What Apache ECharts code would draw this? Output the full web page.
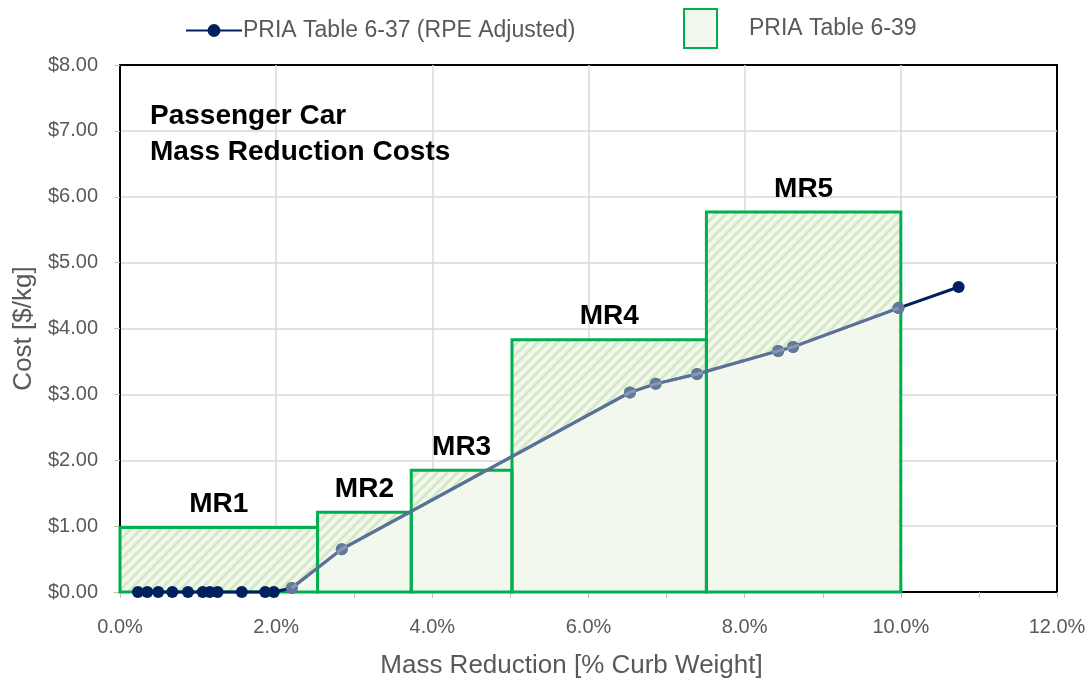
<!DOCTYPE html>
<html>
<head>
<meta charset="utf-8">
<script src="https://cdn.jsdelivr.net/npm/echarts@6/dist/echarts.min.js"></script>
<style>
  html, body { margin: 0; padding: 0; background: #fff; }
  #chart { width: 1089px; height: 679px; }
</style>
</head>
<body>
<div id="chart"></div>
<script>
// PRIA Table 6-37 (RPE Adjusted): mass reduction [%] vs cost [$/kg]
const adjMass = [0.23, 0.35, 0.49, 0.67, 0.87, 1.06, 1.15, 1.25, 1.56, 1.86, 1.97, 2.20, 2.84, 6.53, 6.86, 7.39, 8.43, 8.62, 9.97, 10.74];
const adjCost = [0, 0, 0, 0, 0, 0, 0, 0, 0, 0, 0, 0.06, 0.65, 3.03, 3.16, 3.31, 3.66, 3.72, 4.31, 4.63];
// overlay curve (2.2% .. 10%) drawn lighter on top
const overlayFrom = 11;
const overlayTo = 18;

// PRIA Table 6-39 steps
const mrNames = ['MR1', 'MR2', 'MR3', 'MR4', 'MR5'];
const mrStart = [0, 2.53, 3.73, 5.02, 7.51];
const mrEnd = [2.53, 3.73, 5.02, 7.51, 10.0];
const mrCost = [0.98, 1.21, 1.85, 3.83, 5.77];

const xTicks = [0, 2, 4, 6, 8, 10, 12];
const yTicks = [0, 1, 2, 3, 4, 5, 6, 7, 8];

const green = '#00b050';
const navy = '#002060';
const pale = '#f3f8ee';
const font = 'Liberation Sans';

// diagonal hatch pattern
const hatch = document.createElement('canvas');
hatch.width = 10;
hatch.height = 10;
(function () {
    const c = hatch.getContext('2d');
    c.fillStyle = pale;
    c.fillRect(0, 0, 10, 10);
    c.strokeStyle = '#d5e8c4';
    c.lineWidth = 3;
    c.beginPath();
    c.moveTo(-2, 12); c.lineTo(12, -2);
    c.moveTo(-7, 7); c.lineTo(7, -7);
    c.moveTo(3, 17); c.lineTo(17, 3);
    c.stroke();
})();

const lineData = adjMass.map((m, i) => [m, adjCost[i]]);
const overlayData = lineData.slice(overlayFrom, overlayTo + 1);
const boxData = mrNames.map((n, i) => [mrStart[i], mrEnd[i], mrCost[i], n]);

const chart = echarts.init(document.getElementById('chart'));

function boxRender(fillOnly) {
    return function (params, api) {
        const p0 = api.coord([api.value(0), api.value(2)]);
        const p1 = api.coord([api.value(1), 0]);
        const shape = { x: p0[0], y: p0[1], width: p1[0] - p0[0], height: p1[1] - p0[1] };
        if (fillOnly) {
            return {
                type: 'rect',
                shape: shape,
                style: { fill: { image: hatch, repeat: 'repeat' }, stroke: null }
            };
        }
        return {
            type: 'group',
            children: [
                {
                    type: 'rect',
                    shape: shape,
                    style: { fill: null, stroke: green, lineWidth: 3 }
                },
                {
                    type: 'text',
                    x: (p0[0] + p1[0]) / 2,
                    y: p0[1] - 9,
                    style: {
                        text: api.value(3),
                        fill: '#000',
                        font: 'bold 28px "' + font + '"',
                        align: 'center',
                        verticalAlign: 'bottom'
                    }
                }
            ]
        };
    };
}

chart.setOption({
    animation: false,
    title: {
        text: 'Passenger Car\nMass Reduction Costs',
        left: 145,
        top: 93,
        textStyle: { fontFamily: font, fontSize: 28, fontWeight: 'bold', color: '#000', lineHeight: 36 }
    },
    legend: [
        {
            data: ['PRIA Table 6-37 (RPE Adjusted)'],
            left: 185,
            top: 19,
            padding: 0,
            itemWidth: 56,
            itemHeight: 16,
            itemGap: 0,
            textStyle: { fontFamily: font, fontSize: 23, color: '#595959', padding: [0, 0, 0, -4] }
        },
        {
            data: [{ name: 'PRIA Table 6-39', icon: 'rect' }],
            left: 683,
            top: 8,
            padding: 0,
            itemWidth: 33,
            itemHeight: 39,
            textStyle: { fontFamily: font, fontSize: 23, color: '#595959', padding: [2, 0, 0, 27] }
        }
    ],
    grid: {
        left: 120, right: 32, top: 65, bottom: 87,
        outerBoundsMode: 'none',
        show: true, borderColor: '#000', borderWidth: 2, backgroundColor: 'transparent'
    },
    xAxis: {
        type: 'value',
        min: xTicks[0],
        max: xTicks[xTicks.length - 1],
        interval: 2,
        name: 'Mass Reduction [% Curb Weight]',
        nameLocation: 'middle',
        nameGap: 61,
        nameTextStyle: { fontFamily: font, fontSize: 26, color: '#595959', padding: [0, 34, 0, 0] },
        axisLine: { show: true, lineStyle: { color: '#000', width: 2 } },
        axisTick: { show: true, length: 6, lineStyle: { color: '#bfbfbf' } },
        minorTick: { show: true, splitNumber: 2, length: 6, lineStyle: { color: '#bfbfbf' } },
        axisLabel: {
            margin: 25,
            fontFamily: font, fontSize: 20, color: '#595959',
            formatter: v => v.toFixed(1) + '%'
        },
        splitLine: { show: true, showMinLine: false, showMaxLine: false, lineStyle: { color: '#d9d9d9', width: 1.5 } }
    },
    yAxis: {
        type: 'value',
        min: yTicks[0],
        max: yTicks[yTicks.length - 1],
        interval: 1,
        name: 'Cost [$/kg]',
        nameLocation: 'middle',
        nameGap: 79,
        nameTextStyle: { fontFamily: font, fontSize: 26, color: '#595959' },
        axisLine: { show: true, lineStyle: { color: '#000', width: 2 } },
        axisTick: { show: true, length: 6, lineStyle: { color: '#bfbfbf' } },
        axisLabel: {
            margin: 22,
            fontFamily: font, fontSize: 20, color: '#595959',
            formatter: v => '$' + v.toFixed(2)
        },
        splitLine: { show: true, showMinLine: false, showMaxLine: false, lineStyle: { color: '#d9d9d9', width: 1.5 } }
    },
    series: [
        {
            name: 'PRIA Table 6-39 fill',
            type: 'custom',
            z: 1,
            data: boxData,
            encode: { x: [0, 1], y: 2 },
            renderItem: boxRender(true),
            silent: true
        },
        {
            name: 'area',
            type: 'line',
            z: 2,
            data: overlayData,
            showSymbol: false,
            lineStyle: { width: 0 },
            areaStyle: { color: pale, opacity: 1 },
            silent: true
        },
        {
            name: 'PRIA Table 6-39',
            type: 'custom',
            z: 3,
            data: boxData,
            encode: { x: [0, 1], y: 2 },
            renderItem: boxRender(false),
            itemStyle: { color: pale, borderColor: green, borderWidth: 3 }
        },
        {
            name: 'PRIA Table 6-37 (RPE Adjusted)',
            type: 'line',
            z: 4,
            data: lineData,
            clip: false,
            symbol: 'circle',
            symbolSize: 12,
            color: navy,
            lineStyle: { color: navy, width: 3 },
            itemStyle: { color: navy }
        },
        {
            name: 'overlay',
            type: 'line',
            z: 5,
            data: overlayData,
            clip: false,
            symbol: 'circle',
            symbolSize: 12,
            lineStyle: { color: 'rgba(165,180,196,0.55)', width: 3 },
            itemStyle: { color: 'rgba(165,180,196,0.6)' }
        }
    ]
});
</script>
</body>
</html>
